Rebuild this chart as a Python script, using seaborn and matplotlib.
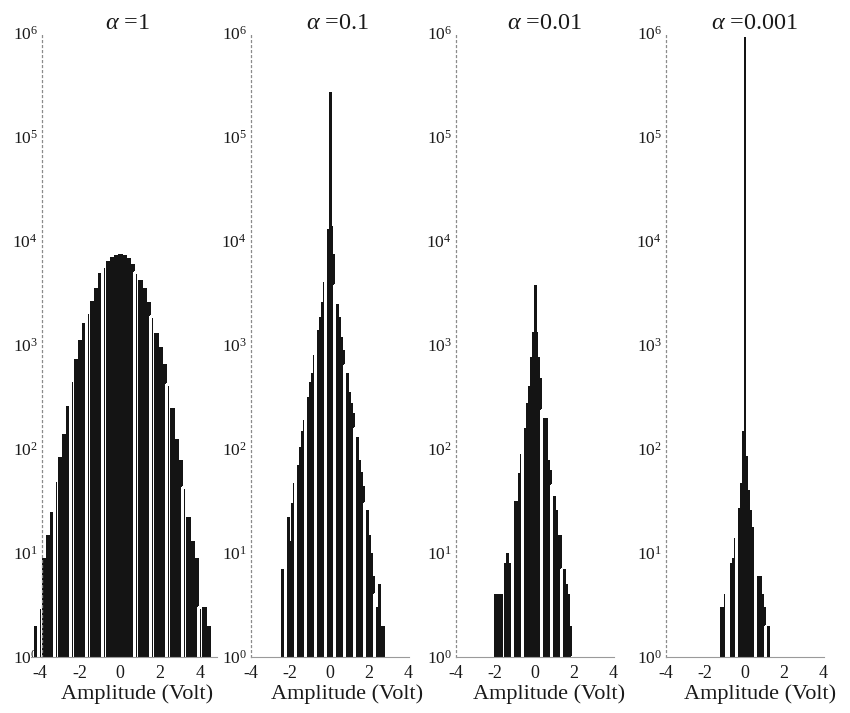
import numpy as np
import pandas as pd
import matplotlib
matplotlib.use("Agg")
import matplotlib.pyplot as plt
import seaborn as sns
from matplotlib.ticker import FixedLocator, NullLocator, LogFormatterSciNotation

# ---------------------------------------------------------------
# Amplitude histograms (counts per bin) for four values of alpha
# ---------------------------------------------------------------
alpha_labels = ["1", "0.1", "0.01", "0.001"]

# alpha = 1 : bins of 0.2 V, first bin centred at -4.2 V
width_a1 = 0.2
start_a1 = -4.2
counts_a1 = [2, 3, 9, 15, 25, 50, 83, 140, 260, 460, 740, 1120, 1620, 2090,
             2630, 3550, 4900, 5750, 6450, 7080, 7400, 7580, 7400, 6900, 6000,
             5000, 4270, 3550, 2570, 1900, 1320, 955, 660, 420, 250, 126, 78,
             43, 22, 13, 9, 3, 3, 2]

# alpha = 0.1 : bins of 0.1 V, first bin centred at -2.7 V
width_a01 = 0.1
start_a01 = -2.7
counts_a01 = [2, 0, 0, 7, 7, 10, 22, 13, 30, 47, 47, 70, 105, 150, 190, 260,
              320, 440, 540, 800, 1100, 1400, 1850, 2600, 4000, 8000, 13000,
              270000, 14000, 7600, 3800, 2500, 1860, 1200, 890, 650, 540, 350,
              280, 220, 160, 130, 78, 60, 44, 30, 26, 15, 10, 6, 4, 3, 5, 2, 2]

# alpha = 0.01 : bins of 0.1 V, first bin centred at -2.1 V
width_a001 = 0.1
start_a001 = -2.1
counts_a001 = [2, 4, 4, 4, 4, 0, 8, 10, 8, 8, 22, 32, 32, 59, 90, 130, 160,
               275, 400, 770, 1350, 3800, 1350, 770, 480, 235, 200, 200, 78,
               63, 45, 35, 26, 15, 15, 7, 7, 5, 4, 2, 1]

# alpha = 0.001 : bins of 0.1 V, first bin centred at -1.9 V
width_a0001 = 0.1
start_a0001 = -1.9
counts_a0001 = [2, 0, 0, 0, 0, 0, 0, 3, 3, 4, 5, 0, 8, 9, 14, 14, 27, 47, 150,
                920000, 85, 40, 26, 18, 10, 10, 6, 6, 4, 3, 2, 2]

panels = [
    (alpha_labels[0], start_a1, width_a1, counts_a1),
    (alpha_labels[1], start_a01, width_a01, counts_a01),
    (alpha_labels[2], start_a001, width_a001, counts_a001),
    (alpha_labels[3], start_a0001, width_a0001, counts_a0001),
]

# ---------------------------------------------------------------
# Style
# ---------------------------------------------------------------
sns.set_theme(style="white")
plt.rcParams["font.family"] = ["Liberation Serif", "DejaVu Serif"]
plt.rcParams["mathtext.fontset"] = "custom"
plt.rcParams["mathtext.rm"] = "Liberation Serif"
plt.rcParams["mathtext.it"] = "Liberation Serif:italic"
plt.rcParams["mathtext.bf"] = "Liberation Serif:bold"
plt.rcParams["axes.unicode_minus"] = False

BAR = "#141414"
SPINE = "#8c8c8c"

fig = plt.figure(figsize=(8.5, 7.13), dpi=100)

bottom, height = 0.0785, 0.875
boxes = [
    [0.0365, bottom, 0.2188, height],
    [0.2953, bottom, 0.1859, height],
    [0.5365, bottom, 0.1859, height],
    [0.7835, bottom, 0.1859, height],
]
xlims = [(-4.45, 4.85), (-3.85, 4.05), (-3.85, 4.05), (-3.85, 4.05)]
stripe_every = [4, 5, 5, 5]
stripe_phase = [1, 0, 0, 0]
title_x = [0.52, 0.55, 0.56, 0.56]
label_x = [0.57, 0.61, 0.59, 0.595]

for k, (lab, start, width, counts) in enumerate(panels):
    ax = fig.add_axes(boxes[k])
    n = len(counts)
    centres = np.round(start + width * np.arange(n), 3)
    edges = [round(float(c - width / 2), 3) for c in centres]
    edges.append(round(float(centres[-1] + width / 2), 3))
    df = pd.DataFrame({"amplitude": centres, "count": counts})

    sns.histplot(data=df, x="amplitude", weights="count", bins=edges, ax=ax,
                 color=BAR, alpha=1.0, linewidth=0.6, edgecolor=BAR,
                 antialiased=False)

    # thin light seams between groups of bins
    for i, p in enumerate(ax.patches):
        if i % stripe_every[k] == stripe_phase[k] and abs(centres[i]) > 0.15:
            p.set_edgecolor("white")
            p.set_linewidth(0.9)

    ax.set_yscale("log")
    ax.set_ylim(1, 1e6)
    ax.set_xlim(*xlims[k])

    ax.yaxis.set_major_locator(FixedLocator([1, 10, 100, 1e3, 1e4, 1e5, 1e6]))
    ax.yaxis.set_major_formatter(LogFormatterSciNotation())
    ax.yaxis.set_minor_locator(NullLocator())
    ax.set_xticks([-4, -2, 0, 2, 4])

    for side in ("top", "right"):
        ax.spines[side].set_visible(False)
    ax.spines["left"].set_linestyle((0, (1.5, 2.5)))
    ax.spines["left"].set_color(SPINE)
    ax.spines["left"].set_linewidth(0.9)
    ax.spines["bottom"].set_color("#9a9a9a")
    ax.spines["bottom"].set_linewidth(0.8)
    if k == 0:
        ax.spines["left"].set_position(("data", -3.9))

    ax.tick_params(axis="y", length=2, width=0.6, color=SPINE, pad=1,
                   labelsize=12.5, labelcolor="#1a1a1a")
    ax.tick_params(axis="x", length=0, pad=6, labelsize=13,
                   labelcolor="#1a1a1a")

    ax.set_ylabel("")
    ax.set_xlabel("Amplitude (Volt)", fontsize=16, color="#1a1a1a")
    ax.xaxis.set_label_coords(label_x[k], -0.043)
    ax.set_title(r"$\alpha$ =" + lab, fontsize=17.5, pad=3, x=title_x[k],
                 color="#1a1a1a")

fig.savefig("out.png", dpi=100)
